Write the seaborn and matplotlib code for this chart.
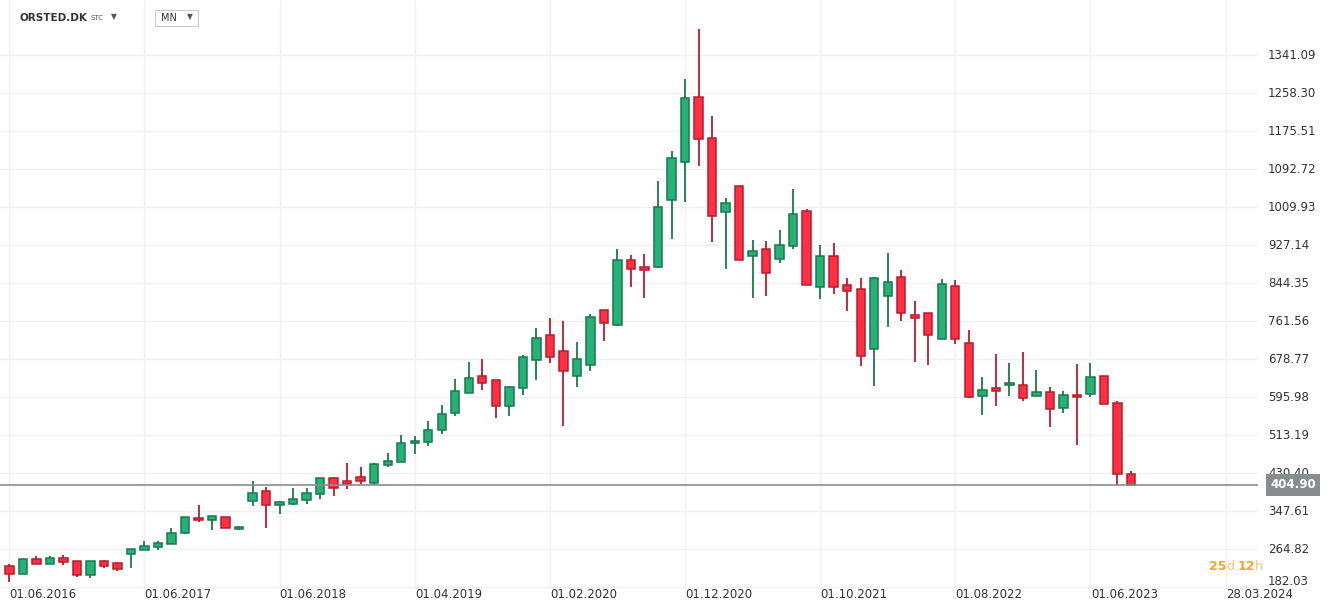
import numpy as np
import matplotlib
matplotlib.use("Agg")
import matplotlib.pyplot as plt
import seaborn as sns
from matplotlib.patches import FancyBboxPatch

opens = [227.5,211.4,243.0,233.4,245.2,238.6,209.2,238.6,234.2,255.5,262.1,268.7,275.3,299.5,333.3,328.2,335.5,308.3,370.0,391.3,
         361.2,363.4,372.2,385.5,419.2,412.6,421.4,409.7,449.4,456.0,495.6,498.6,525.1,562.6,604.4,641.8,633.0,577.9,615.4,677.1,
         732.2,696.9,641.8,666.1,785.1,754.2,895.2,879.8,879.8,1025.2,1109.0,1250.0,1161.9,998.8,1056.1,904.0,919.5,897.4,926.1,1001.0,
         835.7,904.0,840.1,831.3,701.2,815.8,857.7,776.2,780.6,723.3,837.9,714.5,597.7,615.3,621.9,621.9,597.7,606.5,573.5,599.9,
         602.1,641.8,584.5,428.0]
highs = [231.9,243.0,250.3,250.3,252.5,239.0,239.0,241.5,237.1,265.0,283.4,283.4,312.0,335.5,360.5,338.0,335.5,316.4,413.4,399.4,
         370.8,397.2,397.2,419.2,421.4,453.0,444.2,452.3,475.1,514.7,511.8,543.4,578.7,636.0,673.4,680.1,633.0,620.5,688.1,746.1,
         768.2,761.6,716.8,778.5,785.1,919.5,906.2,908.5,1067.1,1133.2,1289.7,1397.6,1208.1,1029.6,1056.1,939.3,937.1,961.3,1049.5,1005.4,
         926.7,931.2,855.5,855.5,857.7,910.6,873.1,805.6,780.6,853.3,851.1,743.1,639.6,690.2,670.4,694.6,655.0,617.5,608.7,668.2,
         670.4,641.8,588.9,435.4]
lows = [193.8,211.4,233.4,233.4,230.5,204.8,201.8,223.9,217.3,223.9,262.1,263.5,275.3,297.3,325.2,307.6,310.5,306.1,359.0,312.0,
        340.7,361.2,363.4,374.4,381.1,396.5,407.5,405.3,445.0,456.0,471.4,489.1,515.5,555.2,604.4,612.5,550.8,555.2,601.4,634.5,
        669.8,533.1,619.1,652.8,719.0,752.0,835.7,813.0,877.6,940.8,1020.8,1100.2,934.9,875.4,895.2,811.5,815.9,888.6,919.5,840.2,
        810.7,821.7,784.3,663.1,621.2,749.0,762.2,671.9,665.3,723.3,712.3,593.3,558.0,577.9,597.7,588.9,597.7,531.6,562.4,491.9,
        595.5,582.3,403.8,404.9]
closes = [211.4,243.0,233.4,245.2,237.8,209.2,238.6,229.0,222.4,265.0,271.6,278.2,300.3,335.5,328.2,337.7,310.5,313.5,388.4,361.2,
          368.6,375.2,388.4,419.2,398.7,407.5,414.1,450.1,456.7,496.4,500.8,525.1,560.3,608.8,637.4,626.4,577.9,617.6,683.7,725.6,
          683.7,652.8,679.3,771.8,758.6,895.2,875.4,873.2,1009.8,1117.8,1247.8,1159.6,990.0,1018.6,895.2,915.1,866.6,928.3,994.4,840.2,
          904.0,835.7,826.9,685.8,855.5,846.7,780.6,769.6,732.1,842.3,723.3,595.5,610.9,608.7,626.3,593.3,606.5,571.2,599.9,595.5,
          639.6,582.3,428.0,404.9]
x_labels = ["01.06.2016","01.06.2017","01.06.2018","01.04.2019","01.02.2020","01.12.2020",
            "01.10.2021","01.08.2022","01.06.2023","28.03.2024"]
y_ticks = [182.03,264.82,347.61,430.40,513.19,595.98,678.77,761.56,844.35,927.14,1009.93,1092.72,1175.51,1258.30,1341.09]
last_price = 404.90

sns.set_theme(style="white")
plt.rcParams['font.family'] = ['DejaVu Sans']

fig = plt.figure(figsize=(13.31, 6.12), dpi=100)
ax = fig.add_axes([0, 0.036, 1258/1331, 0.964])
Y0, Y1 = 176.1, 1461.6

o = np.array(opens); c = np.array(closes); h = np.array(highs); l = np.array(lows)
idx = np.arange(len(o))
up = c >= o
gfill, gedge = "#26b276", "#177a4e"
rfill, redge = "#ff3045", "#b91c2c"

ax.vlines(idx[up], l[up], h[up], color=gedge, lw=1.3, zorder=2)
ax.vlines(idx[~up], l[~up], h[~up], color=redge, lw=1.3, zorder=2)
lo = np.minimum(o, c); hi = np.maximum(o, c)
ht = np.maximum(hi - lo, 1.5)
ax.bar(idx[up], ht[up], bottom=lo[up], width=0.62, color=gfill, edgecolor=gedge, lw=1.1, zorder=3)
ax.bar(idx[~up], ht[~up], bottom=lo[~up], width=0.62, color=rfill, edgecolor=redge, lw=1.1, zorder=3)

ax.set_xlim(-0.69, 92.4)
ax.set_ylim(Y0, Y1)
for yv in y_ticks:
    ax.axhline(yv, color="#f0f0f0", lw=1, zorder=0)
for i in range(len(x_labels)):
    ax.axvline(10 * i, color="#f0f0f0", lw=1, zorder=0)
ax.set_xticks([]); ax.set_yticks([])
for s in ax.spines.values():
    s.set_visible(False)

ax.axhline(last_price, color="#8a8d90", lw=1.2, zorder=4)

for i, lab in enumerate(x_labels):
    fig.text((9.3 + 135.2 * i) / 1331, 1 - 594 / 612, lab, ha="left", va="center", fontsize=8.5, color="#333333")
for yv in y_ticks:
    yy = (yv - Y0) / (Y1 - Y0)
    if yv == y_ticks[0]:
        yy = (181 - Y0 + 13) / (Y1 - Y0)
    ax.text(1.008, yy, f"{yv:.2f}", transform=ax.transAxes,
            ha="left", va="center", fontsize=8.5, color="#333333")

yp = (last_price - Y0) / (Y1 - Y0)
ax.text(1.01, yp, f"{last_price:.2f}", transform=ax.transAxes, ha="left", va="center",
        fontsize=8.5, color="white", fontweight="bold",
        bbox=dict(boxstyle="square,pad=0.35", fc="#8a8d90", ec="none"))

fy = 1 - 567 / 612
fig.text(1209 / 1331, fy, "25", color="#f5a623", fontsize=9, va="center", fontweight="bold")
fig.text(1226 / 1331, fy, "d", color="#f5c87a", fontsize=9, va="center")
fig.text(1238 / 1331, fy, "12", color="#f5a623", fontsize=9, va="center", fontweight="bold")
fig.text(1255 / 1331, fy, "h", color="#f5c87a", fontsize=9, va="center")

fig.text(20 / 1331, 1 - 18 / 612, "ORSTED.DK", fontsize=7.5, fontweight="bold", color="#333333", va="center")
fig.text(91 / 1331, 1 - 18 / 612, "STC", fontsize=5, color="#555555", va="center")
fig.text(111 / 1331, 1 - 17 / 612, "▼", fontsize=5.5, color="#555555", va="center")
box = FancyBboxPatch((155 / 1331, 1 - 26 / 612), 43 / 1331, 16 / 612, boxstyle="square,pad=0",
                     transform=fig.transFigure, fc="white", ec="#cccccc", lw=0.8)
fig.patches.append(box)
fig.text(161 / 1331, 1 - 18 / 612, "MN", fontsize=7, color="#333333", va="center")
fig.text(187 / 1331, 1 - 17 / 612, "▼", fontsize=5.5, color="#555555", va="center")

fig.savefig("out.png", dpi=100)
